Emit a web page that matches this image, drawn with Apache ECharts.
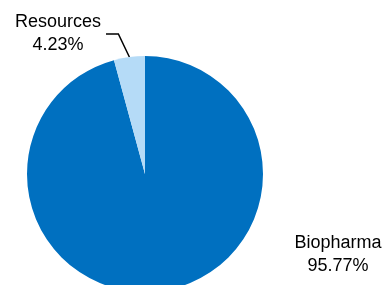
<!DOCTYPE html>
<html><head><meta charset="utf-8">
<script src="https://cdn.jsdelivr.net/npm/echarts@6/dist/echarts.min.js"></script>
<style>html,body{margin:0;padding:0;background:#fff}#c{width:386px;height:285px}</style>
</head><body><div id="c"></div>
<script>
const categories = ['Biopharma', 'Resources'];
const values = [95.77, 4.23];
const colors = ['#0070c0', '#b5dbf7'];

const chart = echarts.init(document.getElementById('c'), null, {renderer: 'canvas'});
chart.setOption({
  animation: false,
  series: [{
    type: 'pie',
    center: [145, 174],
    radius: 118,
    startAngle: 90,
    clockwise: true,
    data: categories.map((n, i) => ({
      name: n, value: values[i], itemStyle: {color: colors[i]},
      labelLine: {show: i === 1}
    })),
    label: {
      show: true,
      position: 'outside',
      formatter: p => p.name + '\n' + p.value.toFixed(2) + '%',
      fontFamily: 'Liberation Sans, Arial, sans-serif',
      fontSize: 18,
      lineHeight: 23,
      color: '#000',
      align: 'center'
    },
    labelLine: {show: true, length: 20, length2: 10, lineStyle: {color: '#000', width: 1.5}},
    labelLayout: function (params) {
      if (params.dataIndex === 1) {
        const w = params.labelRect.width;
        const cx = 58, cy = 34;
        const pts = params.labelLinePoints;
        const p0 = pts ? pts[0] : [129, 57];
        return {
          x: cx, y: cy, align: 'center', verticalAlign: 'middle',
          labelLinePoints: [p0, [p0[0] - 11, cy], [cx + w / 2 + 5, cy]]
        };
      }
      return {x: 338, y: 255, align: 'center', verticalAlign: 'middle'};
    }
  }]
});
</script></body></html>
